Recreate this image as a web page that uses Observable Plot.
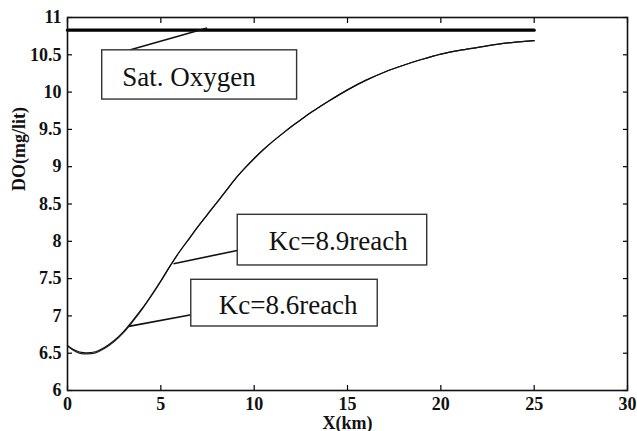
<!DOCTYPE html>
<html>
<head>
<meta charset="utf-8">
<script src="https://cdn.jsdelivr.net/npm/d3@7"></script>
<script src="https://cdn.jsdelivr.net/npm/@observablehq/plot@0.6"></script>
<style>
  html, body { margin: 0; padding: 0; background: #fff; }
</style>
</head>
<body>
<div id="chart"></div>
<script>
// Distance along river (km)
const xKm = [0,0.25,0.5,0.75,1,1.5,2,2.5,3,3.5,4,4.5,5,5.5,6,6.5,7,7.5,8,8.5,9,9.5,10,10.5,11,11.5,12,12.5,13,13.5,14,15,16,17,18,19,20,21,22,23,24,25];
// DO profile, Kc = 8.9 reach
const doKc89 = [6.60,6.56,6.53,6.51,6.505,6.52,6.58,6.67,6.79,6.94,7.10,7.28,7.47,7.67,7.86,8.03,8.20,8.36,8.52,8.68,8.84,8.98,9.11,9.23,9.34,9.44,9.54,9.63,9.72,9.80,9.88,10.03,10.16,10.27,10.36,10.44,10.51,10.56,10.60,10.64,10.67,10.69];
// DO profile, Kc = 8.6 reach
const doKc86 = [6.60,6.55,6.515,6.495,6.49,6.505,6.565,6.655,6.775,6.925,7.09,7.27,7.465,7.67,7.86,8.03,8.20,8.36,8.52,8.68,8.84,8.98,9.11,9.23,9.34,9.44,9.54,9.63,9.72,9.80,9.88,10.03,10.16,10.27,10.36,10.44,10.51,10.56,10.60,10.64,10.67,10.69];
// Saturation oxygen
const satX = [0, 25];
const satDO = [10.83, 10.83];

// Axis ticks
const xTicks = [0,5,10,15,20,25,30];
const xTickLabels = ["0","5","10","15","20","25","30"];
const yTicks = [6,6.5,7,7.5,8,8.5,9,9.5,10,10.5,11];
const yTickLabels = ["6","6.5","7","7.5","8","8.5","9","9.5","10","10.5","11"];
const xTitle = "X(km)";
const yTitle = "DO(mg/lit)";

// Annotations (data coordinates)
const annText = ["Sat. Oxygen", "Kc=8.9reach", "Kc=8.6reach"];
const annTextX = [2.93, 10.78, 8.10];
const annTextY = [10.088, 7.886, 7.019];
const boxX1 = [1.86, 9.12, 6.63];
const boxX2 = [12.30, 19.27, 16.62];
const boxY1 = [9.90, 7.676, 6.858];
const boxY2 = [10.56, 8.355, 7.484];
const leadX1 = [3.28, 9.09, 6.63];
const leadY1 = [10.56, 7.877, 7.015];
const leadX2 = [7.48, 5.68, 3.28];
const leadY2 = [10.86, 7.70, 6.86];

const curve89 = xKm.map((x, i) => ({x, y: doKc89[i]}));
const curve86 = xKm.map((x, i) => ({x, y: doKc86[i]}));
const sat = satX.map((x, i) => ({x, y: satDO[i]}));
const ann = annText.map((t, i) => ({
  t, tx: annTextX[i], ty: annTextY[i],
  x1: boxX1[i], x2: boxX2[i], y1: boxY1[i], y2: boxY2[i],
  lx1: leadX1[i], ly1: leadY1[i], lx2: leadX2[i], ly2: leadY2[i]
}));

const serif = "Liberation Serif";
const xFmt = d => xTickLabels[xTicks.indexOf(d)];
const yFmt = d => yTickLabels[yTicks.indexOf(d)];
const blank = () => "";

const chart = Plot.plot({
  width: 637,
  height: 431,
  marginLeft: 67,
  marginRight: 10,
  marginTop: 17,
  marginBottom: 41,
  x: {domain: [0, 30]},
  y: {domain: [6, 11]},
  marks: [
    // tick labels
    Plot.axisX(xTicks, {anchor: "bottom", tickSize: 0, tickPadding: 7, tickFormat: xFmt, label: null, fontSize: 18, fontWeight: "bold", fontFamily: serif, fill: "#111"}),
    Plot.axisY(yTicks, {anchor: "left", tickSize: 0, tickPadding: 6, tickFormat: yFmt, label: null, fontSize: 18, fontWeight: "bold", fontFamily: serif, fill: "#111"}),
    // inward ticks on all four sides
    Plot.axisX(xTicks, {anchor: "bottom", tickSize: 5, dy: -5, tickFormat: blank, label: null, strokeWidth: 1.2}),
    Plot.axisX(xTicks, {anchor: "top", tickSize: 5, dy: 5, tickFormat: blank, label: null, strokeWidth: 1.2}),
    Plot.axisY(yTicks, {anchor: "left", tickSize: 5, dx: 5, tickFormat: blank, label: null, strokeWidth: 1.2}),
    Plot.axisY(yTicks, {anchor: "right", tickSize: 5, dx: -5, tickFormat: blank, label: null, strokeWidth: 1.2}),
    // axis titles
    Plot.text([xTitle], {frameAnchor: "bottom", dy: 38, text: d => d, fontSize: 18, fontWeight: "bold", fontFamily: serif, fill: "#111"}),
    Plot.text([yTitle], {frameAnchor: "left", dx: -48, dy: -13, rotate: -90, text: d => d, fontSize: 18, fontWeight: "bold", fontFamily: serif, fill: "#111"}),
    // curves
    Plot.line(curve86, {x: "x", y: "y", stroke: "#222", strokeWidth: 1.2, curve: "catmull-rom"}),
    Plot.line(curve89, {x: "x", y: "y", stroke: "#111", strokeWidth: 1.2, curve: "catmull-rom"}),
    Plot.line(sat, {x: "x", y: "y", stroke: "#000", strokeWidth: 3.2}),
    // annotations
    Plot.link(ann, {x1: "lx1", y1: "ly1", x2: "lx2", y2: "ly2", stroke: "#111", strokeWidth: 1.6}),
    Plot.rect(ann, {x1: "x1", x2: "x2", y1: "y1", y2: "y2", fill: "#fff", stroke: "#333", strokeWidth: 1.4}),
    Plot.text(ann, {x: "tx", y: "ty", text: "t", textAnchor: "start", lineAnchor: "bottom", fontSize: 27, fontWeight: "normal", fontFamily: serif, fill: "#111"}),
    Plot.frame({stroke: "#111", strokeWidth: 1.6})
  ]
});
document.getElementById("chart").appendChild(chart);
</script>
</body>
</html>
